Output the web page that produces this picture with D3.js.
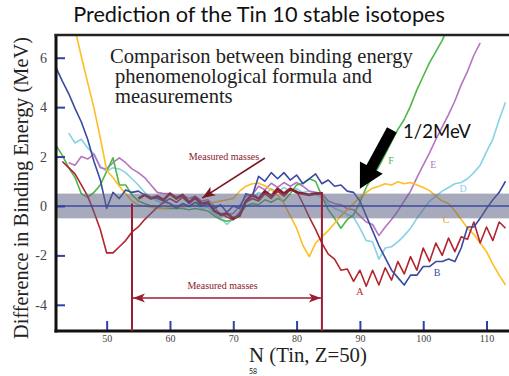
<!DOCTYPE html>
<html>
<head>
<meta charset="utf-8">
<script src="https://cdn.jsdelivr.net/npm/d3@7"></script>
<style>
  body { margin: 0; background: #fff; }
  svg { display: block; }
</style>
</head>
<body>
<svg id="chart"></svg>
<script>
// x ticks and y ticks
const xTicks = [50, 60, 70, 80, 90, 100, 110]
const yTicks = [-4, -2, 0, 2, 4, 6]

// curves, one value per neutron number, starting at the given N
const startA = 43
const curveA = [1.8, 1.55, 1.3, 0.85, 0.4, -0.25, -0.95,
  -1.9, -1.9, -1.65, -1.4, -1.05, -0.85, -0.55, -0.3, -0.05, 0.15,
  0.3, 0.15, 0.35, 0.1, 0.3, 0.0, 0.1, -0.2, -0.3, -0.45,
  -0.55, -0.3, 0.15, 0.3, 0.2, 0.5, 0.3, 0.6, 0.4, 0.65,
  0.6, 0.1, -0.45, -0.95, -1.5, -1.95, -2.15, -2.6, -2.55, -3.05,
  -2.6, -3.25, -2.6, -3.2, -2.5, -3.0, -2.25, -2.75, -2.05, -2.6,
  -1.7, -2.25, -1.5, -2.0, -1.3, -1.85, -1.25, -1.35, -0.65, -1.5,
  -0.85, -1.4, -0.65, -0.9]

const startB = 42
const curveB = [5.6, 5.05, 4.55, 3.95, 3.4, 2.7, 1.8, 1.05, -0.1, 0.55,
  0.3, 0.65, 0.55, 0.6, 0.45, 0.35, 0.3, 0.2, 0.1, -0.1,
  0.1, 0.0, 0.15, 0.0, 0.1, -0.1, 0.05, -0.25, 0.0, -0.1,
  0.5, 0.4, 1.2, 1.0, 1.35, 1.1, 1.35, 1.05, 1.25, 0.9,
  1.1, 1.3, 0.9, 1.05, 0.8, 0.85, 0.6, 0.55, 0.2, -0.4,
  -1.0, -1.6, -2.1, -2.6, -2.9, -3.2, -2.8, -2.8, -2.45, -2.45,
  -2.25, -2.25, -2.15, -2.25, -1.7, -0.85, -0.85, -0.5, -0.1, 0.25,
  0.55, 1.0]

const startC = 45
const curveC = [7.15, 6.05, 5.0, 3.96, 2.75,
  1.45, 1.15, 0.8, 0.5, 0.2, 0.05, 0.0, -0.05, -0.1, -0.1,
  -0.05, -0.05, -0.05, 0.0, 0.05, 0.1, 0.1, 0.15, 0.2, 0.25,
  0.3, 0.6, 0.8, 0.9, 0.92, 0.82, 0.65, 0.45, 0.1, -0.4,
  -0.9, -1.6, -2.05, -1.5, -1.25, -1.0, -0.7, -0.4, -0.15, 0.1,
  0.35, 0.55, 0.72, 0.8, 0.9, 0.85, 0.98, 0.9, 0.95, 0.85,
  0.75, 0.62, 0.4, 0.2, 0.1, -0.2, -0.55, -0.9, -1.15, -1.5,
  -1.85, -2.35, -2.8, -3.2]

const startD = 44
const curveD = [2.95, 2.55, 2.7, 2.35, 2.1, 1.6,
  1.4, 1.55, 1.5, 1.35, 1.1, 0.85, 0.55, 0.35, 0.2, 0.1,
  0.1, 0.0, 0.1, -0.05, 0.05, -0.1, -0.05, -0.3, -0.5, -0.75,
  -0.5, -0.2, 0.2, 0.3, 0.55, 0.45, 0.7, 0.55, 0.75, 0.6,
  0.7, 0.55, 0.6, 0.45, 0.35, 0.1, -0.1, -0.2, -0.35, -0.45,
  -0.9, -1.4, -1.45, -2.15, -1.7, -1.65, -1.45, -1.2, -0.9, -0.5,
  -0.15, 0.2, 0.4, 0.6, 0.75, 0.9, 0.95, 1.1, 1.35, 1.65,
  2.2, 2.7, 3.5, 4.2]

const startE = 44
const curveE = [1.75, 1.65, 2.0, 1.9, 2.1, 1.55,
  1.5, 1.75, 1.95, 1.75, 1.5, 1.35, 1.15, 0.85, 0.55, 0.5,
  0.5, 0.38, 0.45, 0.3, 0.4, 0.2, 0.25, 0.0, -0.4, -0.35,
  -0.3, 0.0, 0.4, 0.45, 0.8, 0.65, 0.92, 0.75, 0.95, 0.8,
  0.95, 0.8, 0.6, 0.55, 0.5, 0.2, 0.1, 0.05, -0.1, -0.15,
  -0.4, -0.65, -0.75, -1.2, -0.85, -0.55, -0.2, 0.2, 0.6, 1.15,
  1.65, 2.15, 2.7, 3.2, 3.7, 4.25, 4.9, 5.45, 6.1, 6.6]

const startF = 42
const curveF = [2.45, 2.05, 1.55, 1.15, 0.5, 0.35, 0.55, 0.85, 1.4, 1.95,
  0.85, 0.85, 0.45, 0.2, 0.1, 0.0, -0.05, -0.1, -0.1, -0.1,
  -0.1, -0.15, -0.1, -0.15, -0.2, -0.4, -0.55, -0.62, -0.55, -0.35,
  0.0, 0.1, 0.05, 0.25, 0.15, 0.3, 0.2, 0.5, 0.85, 0.92,
  1.1, 1.0, 0.4, -0.15, -0.5, -0.9, -0.55, -0.35, 0.15, 0.75,
  1.2, 1.6, 2.1, 2.6, 3.1, 3.5, 4.05, 4.7, 5.25, 5.8,
  6.25, 6.7, 7.3]

// measured-mass region (thick dark red)
const startM = 55
const measured = [0.3, 0.45, 0.3, 0.4, 0.25,
  0.5, 0.3, 0.45, 0.15, 0.35, 0.1, 0.15, -0.2, -0.35, -0.3,
  -0.5, -0.4, 0.2, 0.45, 0.3, 0.6, 0.4, 0.7, 0.5, 0.7,
  0.55, 0.5, 0.45, 0.5, 0.5]

const measuredRange = [54, 84]
const measuredTops = [0.1, 0.57]
const bandHalf = 0.5

// letter labels [N, value]
const letterA = [90.0, -3.45]
const letterB = [102.2, -2.7]
const letterC = [103.6, -0.55]
const letterD = [106.3, 0.72]
const letterE = [101.6, 1.66]
const letterF = [94.9, 1.86]

const W = 509
const H = 376
const padL = 56, padR = 509, padT = 35, padB = 331

const serif = '"Liberation Serif", "Times New Roman", serif'
const sans = 'Lato, "Open Sans", sans-serif'

const x = d3.scaleLinear().domain([42, 113.55]).range([padL, padR])
const y = d3.scaleLinear().domain([-5.06, 6.92]).range([padB, padT])

const svg = d3.select('#chart').attr('width', W).attr('height', H)

main()

function main() {
  svg.append('defs').append('clipPath').attr('id', 'plot-clip')
    .append('rect')
    .attr('x', padL + 1).attr('y', padT + 1)
    .attr('width', padR - padL).attr('height', padB - padT - 2)

  const series = [
    { key: 'D', start: startD, values: curveD, color: '#86d3e4' },
    { key: 'E', start: startE, values: curveE, color: '#b574c2' },
    { key: 'F', start: startF, values: curveF, color: '#4cb848' },
    { key: 'C', start: startC, values: curveC, color: '#fdbf22' },
    { key: 'A', start: startA, values: curveA, color: '#b3242e' },
    { key: 'B', start: startB, values: curveB, color: '#3a4aa0' },
  ]

  const line = d3.line().x((d) => x(d.n)).y((d) => y(d.v))
  const toPoints = (start, values) => values.map((v, i) => ({ n: start + i, v }))

  const g = svg.append('g').attr('clip-path', 'url(#plot-clip)')

  g.selectAll('.curve')
    .data(series)
    .enter()
    .append('path')
    .attr('class', 'curve')
    .attr('d', (s) => line(toPoints(s.start, s.values)))
    .attr('fill', 'none')
    .attr('stroke', (s) => s.color)
    .attr('stroke-width', 1.6)
    .attr('stroke-linejoin', 'round')

  g.append('path')
    .attr('d', line(toPoints(startM, measured)))
    .attr('fill', 'none')
    .attr('stroke', '#8c1c2c')
    .attr('stroke-width', 2.6)
    .attr('stroke-linejoin', 'round')

  // +-0.5 MeV band, drawn over the curves
  g.append('rect')
    .attr('x', x(42))
    .attr('y', y(bandHalf))
    .attr('width', x(113.55) - x(42))
    .attr('height', y(-bandHalf) - y(bandHalf))
    .attr('fill', '#5f6585')
    .attr('opacity', 0.55)

  g.append('line')
    .attr('x1', x(42)).attr('x2', x(113.55))
    .attr('y1', y(0)).attr('y2', y(0))
    .attr('stroke', '#3a4aa0')
    .attr('stroke-width', 1.6)

  drawAxes()
  drawMeasured()
  drawLabels()
}

function drawAxes() {
  const yAxis = d3.axisLeft(y).tickValues(yTicks).tickSize(-9).tickPadding(9)
    .tickFormat((d) => d)
  const xAxis = d3.axisBottom(x).tickValues(xTicks).tickSize(-10).tickPadding(4)

  const gy = svg.append('g').attr('transform', `translate(${padL},0)`).call(yAxis)
  const gx = svg.append('g').attr('transform', `translate(0,${padB})`).call(xAxis)

  for (const a of [gx, gy]) {
    a.select('.domain').remove()
    a.selectAll('.tick line').attr('stroke', '#3040a8').attr('stroke-width', 2)
    a.selectAll('.tick text').attr('fill', '#444').style('font-family', serif)
  }
  gy.selectAll('.tick text').style('font-size', '14px')
  gx.selectAll('.tick text').style('font-size', '10px')

  // frame
  svg.append('line').attr('x1', padL).attr('x2', padL).attr('y1', padT - 1).attr('y2', padB + 1.5)
    .attr('stroke', '#111').attr('stroke-width', 3)
  svg.append('line').attr('x1', padL - 1.5).attr('x2', W).attr('y1', padB).attr('y2', padB)
    .attr('stroke', '#111').attr('stroke-width', 3)
  svg.append('line').attr('x1', padL - 1.5).attr('x2', W).attr('y1', padT).attr('y2', padT)
    .attr('stroke', '#222').attr('stroke-width', 2.5)
}

function arrowHead(tip, from, len, half) {
  const dx = tip[0] - from[0]
  const dy = tip[1] - from[1]
  const d = Math.hypot(dx, dy)
  const ux = dx / d, uy = dy / d
  const bx = tip[0] - ux * len, by = tip[1] - uy * len
  return `M${tip[0]},${tip[1]}L${bx - uy * half},${by + ux * half}` +
    `L${bx + ux * len * 0.25},${by + uy * len * 0.25}` +
    `L${bx + uy * half},${by - ux * half}Z`
}

function drawMeasured() {
  const red = '#9c1c34'
  const g = svg.append('g')

  measuredRange.forEach((n, i) => {
    g.append('line')
      .attr('x1', x(n)).attr('x2', x(n))
      .attr('y1', y(measuredTops[i])).attr('y2', padB)
      .attr('stroke', red).attr('stroke-width', 2)
  })

  const ay = y(-3.72)
  const p0 = [x(measuredRange[0]) + 1, ay]
  const p1 = [x(measuredRange[1]) - 1, ay]
  g.append('line')
    .attr('x1', p0[0]).attr('x2', p1[0]).attr('y1', ay).attr('y2', ay)
    .attr('stroke', red).attr('stroke-width', 1.5)
  g.append('path').attr('d', arrowHead(p0, p1, 12, 4.5)).attr('fill', red)
  g.append('path').attr('d', arrowHead(p1, p0, 12, 4.5)).attr('fill', red)

  g.append('text')
    .attr('x', x(68.3)).attr('y', ay - 9)
    .attr('text-anchor', 'middle')
    .style('font-family', serif).style('font-size', '10px')
    .attr('fill', '#8a1a2a')
    .text('Measured masses')

  // upper pointer
  const tail = [x(75.0), y(1.94)]
  const tip = [x(65.1), y(0.32)]
  g.append('line')
    .attr('x1', tail[0]).attr('y1', tail[1]).attr('x2', tip[0]).attr('y2', tip[1])
    .attr('stroke', '#7a1820').attr('stroke-width', 1.6)
  g.append('path').attr('d', arrowHead(tip, tail, 13, 5)).attr('fill', '#7a1820')

  g.append('text')
    .attr('x', 224).attr('y', 160)
    .attr('text-anchor', 'middle')
    .style('font-family', serif).style('font-size', '10px')
    .attr('fill', '#8a1a2a')
    .text('Measured masses')
}

function fit(sel, width) {
  const w = sel.node().getComputedTextLength()
  const fs = parseFloat(sel.style('font-size'))
  sel.style('font-size', `${(fs * width) / w}px`)
}

function drawLabels() {
  const title = svg.append('text')
    .attr('x', 259).attr('y', 22)
    .attr('text-anchor', 'middle')
    .style('font-family', sans).style('font-size', '21px')
    .attr('fill', '#111')
    .text('Prediction of the Tin 10 stable isotopes')
  fit(title, 372)

  const yl = svg.append('text')
    .attr('transform', `translate(28,${188}) rotate(-90)`)
    .attr('text-anchor', 'middle')
    .style('font-family', serif).style('font-size', '19px')
    .attr('fill', '#222')
    .text('Difference in Binding Energy (MeV)')
  fit(yl, 302)

  const xl = svg.append('text')
    .attr('x', 249).attr('y', 362)
    .style('font-family', serif).style('font-size', '21px')
    .attr('fill', '#222')
    .text('N (Tin, Z=50)')
  fit(xl, 118)

  svg.append('text')
    .attr('x', 253).attr('y', 374)
    .attr('text-anchor', 'middle')
    .style('font-family', sans).style('font-size', '7px')
    .attr('fill', '#111')
    .text('58')

  const lines = ['Comparison between binding energy', ' phenomenological formula and', ' measurements']
  const c0 = svg.append('text')
    .attr('x', 110).attr('y', 63)
    .style('font-family', serif).style('font-size', '18px')
    .attr('fill', '#222')
    .text(lines[0])
  fit(c0, 303)
  const fs = c0.style('font-size')
  lines.slice(1).forEach((t, i) => {
    svg.append('text')
      .attr('x', 115).attr('y', 83 + i * 20)
      .style('font-family', serif).style('font-size', fs)
      .attr('fill', '#222')
      .text(t.trim())
  })

  const half = svg.append('text')
    .attr('x', 403).attr('y', 138)
    .style('font-family', sans).style('font-size', '23px')
    .attr('fill', '#111')
    .text('1/2MeV')
  fit(half, 68)

  // black arrow
  const tail = [x(95.05), y(3.08)]
  const tip = [x(90.0), y(0.7)]
  const dx = tip[0] - tail[0], dy = tip[1] - tail[1]
  const d = Math.hypot(dx, dy)
  const ux = dx / d, uy = dy / d
  const hl = 24, sw = 5.5, hw = 13
  const bx = tip[0] - ux * hl, by = tip[1] - uy * hl
  const pts = [
    [tail[0] - uy * sw, tail[1] + ux * sw],
    [bx - uy * sw, by + ux * sw],
    [bx - uy * hw, by + ux * hw],
    tip,
    [bx + uy * hw, by - ux * hw],
    [bx + uy * sw, by - ux * sw],
    [tail[0] + uy * sw, tail[1] - ux * sw],
  ]
  svg.append('path').attr('d', 'M' + pts.map((p) => p.join(',')).join('L') + 'Z').attr('fill', '#000')

  const letters = [
    ['A', letterA, '#b3242e'],
    ['B', letterB, '#3a4aa0'],
    ['C', letterC, '#d9a13a'],
    ['D', letterD, '#86d3e4'],
    ['E', letterE, '#b574c2'],
    ['F', letterF, '#4cb848'],
  ]
  svg.selectAll('.letter')
    .data(letters)
    .enter()
    .append('text')
    .attr('class', 'letter')
    .attr('x', (d) => x(d[1][0]))
    .attr('y', (d) => y(d[1][1]))
    .attr('text-anchor', 'middle')
    .attr('dy', '0.35em')
    .style('font-family', serif).style('font-size', '10px')
    .attr('fill', (d) => d[2])
    .text((d) => d[0])
}
</script>
</body>
</html>
